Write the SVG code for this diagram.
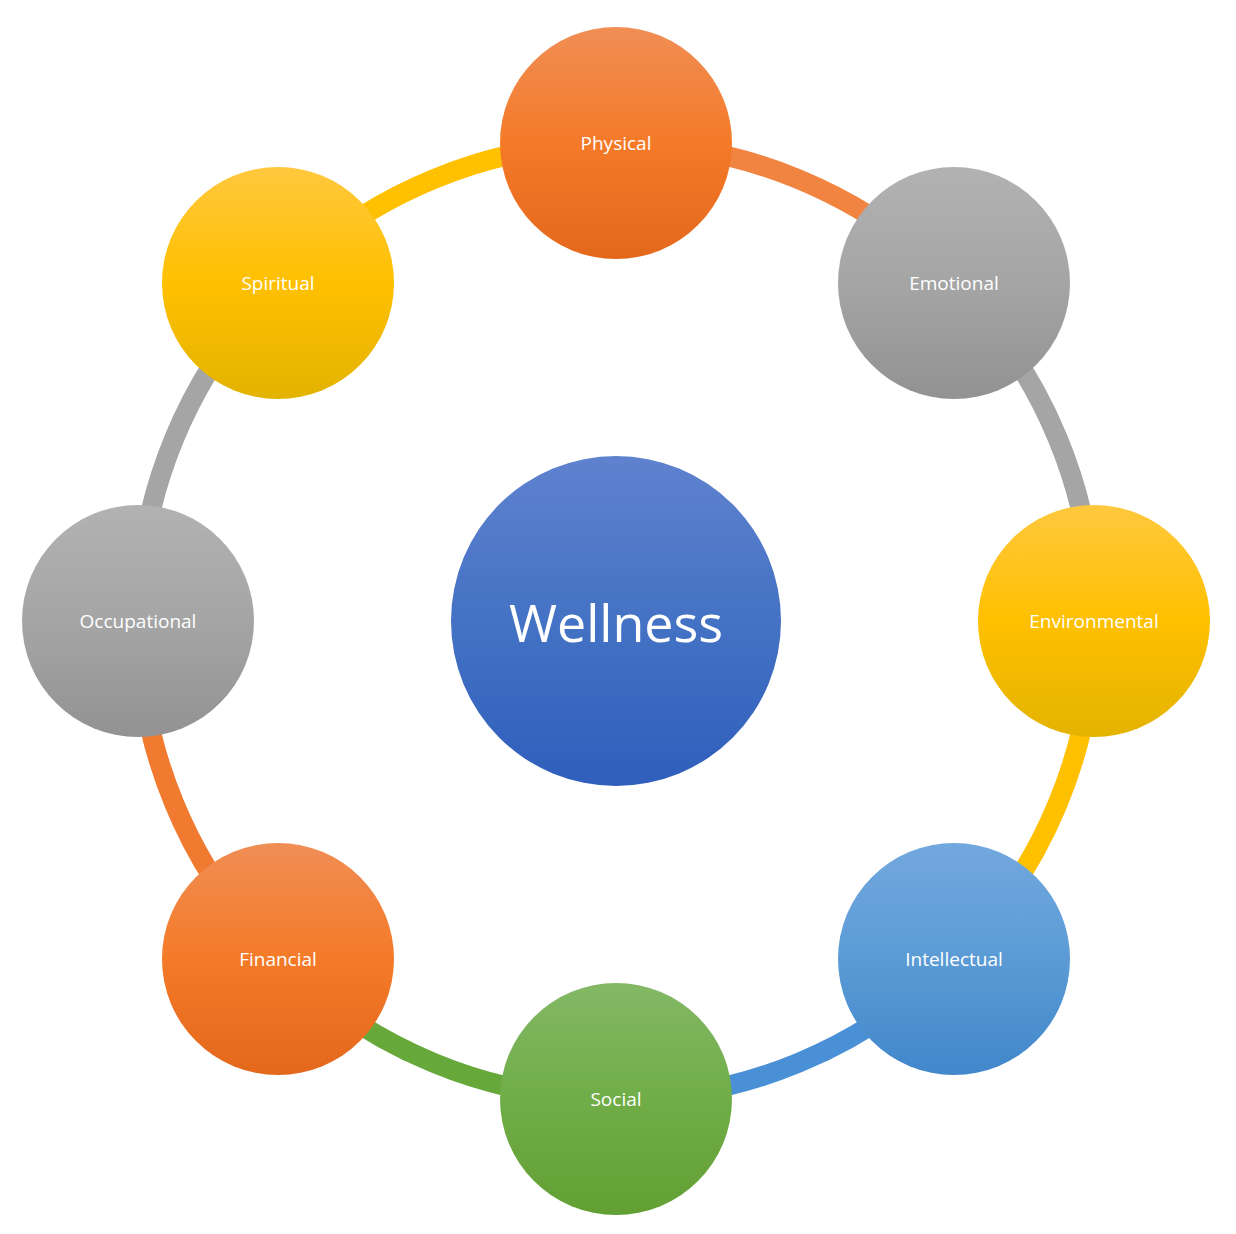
<svg xmlns="http://www.w3.org/2000/svg" width="1236" height="1234" viewBox="0 0 1236 1234">
<defs>
<linearGradient id="gO" x1="0" y1="0" x2="0" y2="1"><stop offset="0" stop-color="#F08E55"/><stop offset="0.5" stop-color="#F47A28"/><stop offset="1" stop-color="#E4681C"/></linearGradient>
<linearGradient id="gG" x1="0" y1="0" x2="0" y2="1"><stop offset="0" stop-color="#B2B2B2"/><stop offset="0.5" stop-color="#A5A5A5"/><stop offset="1" stop-color="#929292"/></linearGradient>
<linearGradient id="gY" x1="0" y1="0" x2="0" y2="1"><stop offset="0" stop-color="#FFC83E"/><stop offset="0.5" stop-color="#FFC000"/><stop offset="1" stop-color="#E3B300"/></linearGradient>
<linearGradient id="gB" x1="0" y1="0" x2="0" y2="1"><stop offset="0" stop-color="#72A8DE"/><stop offset="0.5" stop-color="#5B9BD5"/><stop offset="1" stop-color="#4187CA"/></linearGradient>
<linearGradient id="gN" x1="0" y1="0" x2="0" y2="1"><stop offset="0" stop-color="#84B866"/><stop offset="0.5" stop-color="#70AD47"/><stop offset="1" stop-color="#62A034"/></linearGradient>
<linearGradient id="gW" x1="0" y1="0" x2="0" y2="1"><stop offset="0" stop-color="#5F82CE"/><stop offset="0.5" stop-color="#4472C4"/><stop offset="1" stop-color="#2F5EBC"/></linearGradient>
</defs>
<style>
.arc{fill:none;stroke-width:20}
text{font-family:"Open Sans","Liberation Sans",sans-serif;fill:#fff;text-anchor:middle;dominant-baseline:central}
.s{font-size:19px}
.w{font-size:52px}
</style>
<g id="connectors">
<path class="arc" stroke="#F08440" d="M616 143 A478 478 0 0 1 954 283"/>
<path class="arc" stroke="#A5A5A5" d="M954 283 A478 478 0 0 1 1094 621"/>
<path class="arc" stroke="#FFC000" d="M1094 621 A478 478 0 0 1 954 959"/>
<path class="arc" stroke="#4A90D6" d="M954 959 A478 478 0 0 1 616 1099"/>
<path class="arc" stroke="#67A83A" d="M616 1099 A478 478 0 0 1 278 959"/>
<path class="arc" stroke="#F07A30" d="M278 959 A478 478 0 0 1 138 621"/>
<path class="arc" stroke="#A5A5A5" d="M138 621 A478 478 0 0 1 278 283"/>
<path class="arc" stroke="#FFC000" d="M278 283 A478 478 0 0 1 616 143"/>
</g>
<g id="wellness"><circle cx="616" cy="621" r="165" fill="url(#gW)"/><text class="w" x="616" y="621">Wellness</text></g>
<g id="physical"><circle cx="616" cy="143" r="116" fill="url(#gO)"/><text class="s" x="616" y="143">Physical</text></g>
<g id="emotional"><circle cx="954" cy="283" r="116" fill="url(#gG)"/><text class="s" x="954" y="283">Emotional</text></g>
<g id="environmental"><circle cx="1094" cy="621" r="116" fill="url(#gY)"/><text class="s" x="1094" y="621">Environmental</text></g>
<g id="intellectual"><circle cx="954" cy="959" r="116" fill="url(#gB)"/><text class="s" x="954" y="959">Intellectual</text></g>
<g id="social"><circle cx="616" cy="1099" r="116" fill="url(#gN)"/><text class="s" x="616" y="1099">Social</text></g>
<g id="financial"><circle cx="278" cy="959" r="116" fill="url(#gO)"/><text class="s" x="278" y="959">Financial</text></g>
<g id="occupational"><circle cx="138" cy="621" r="116" fill="url(#gG)"/><text class="s" x="138" y="621">Occupational</text></g>
<g id="spiritual"><circle cx="278" cy="283" r="116" fill="url(#gY)"/><text class="s" x="278" y="283">Spiritual</text></g>
</svg>
